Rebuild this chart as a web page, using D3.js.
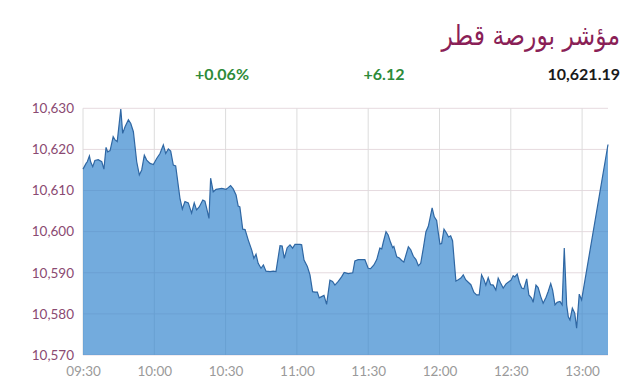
<!DOCTYPE html>
<html><head><meta charset="utf-8">
<script src="https://cdn.jsdelivr.net/npm/d3@7"></script>
<style>
html,body{margin:0;padding:0;background:#fff;}
svg{display:block;}
</style></head>
<body>
<svg id="c" width="640" height="385"></svg>
<script>
const title = "مؤشر بورصة قطر";
const lastValue = "10,621.19";
const change = "+6.12";
const changePct = "+0.06%";
const yTicks = [10570, 10580, 10590, 10600, 10610, 10620, 10630];
const xTickLabels = ["09:30","10:00","10:30","11:00","11:30","12:00","12:30","13:00"];
// minutes since 09:30
const minutes = [0,1.3,1.8,2.7,3.2,4.1,5.0,6.4,7.9,8.8,9.7,10.4,11.4,12.7,13.5,14.4,15.9,16.7,17.7,19.1,20.1,21.2,22.6,23.7,24.7,25.8,26.8,28.2,29.6,31.0,32.4,33.8,34.8,35.9,36.9,38.0,39.0,40.8,41.8,42.9,44.3,45.7,46.8,47.8,48.9,50.4,51.3,52.0,53.0,53.7,54.8,56.0,58.4,60.2,61.1,62.1,63.2,64.4,65.3,66.0,67.2,68.2,69.5,71.0,71.9,72.8,73.7,74.9,75.9,77.0,78.7,80.1,81.2,82.9,83.8,84.7,85.9,87.1,88.2,89.2,91.3,92.0,93.0,94.4,95.5,96.6,97.6,98.6,99.4,100.4,101.4,102.5,103.9,105.0,106.0,107.4,108.8,109.9,111.6,113.5,114.4,115.8,118.6,120.0,121.0,122.4,123.6,124.9,125.7,126.3,127.5,128.4,129.4,130.3,130.8,132.0,133.1,134.1,135.0,136.9,137.9,139.0,140.1,141.1,142.1,143.2,144.3,145.3,146.0,146.9,147.8,148.8,149.5,150.2,150.9,151.9,153.0,153.8,154.7,155.5,156.9,157.9,159.0,160.0,161.0,162.1,163.2,164.5,165.6,166.7,167.7,168.7,169.5,170.5,171.5,172.6,173.7,174.7,175.7,176.8,178.0,178.9,180.1,181.0,181.7,182.7,183.6,184.6,185.5,186.7,187.6,188.8,189.4,190.6,191.5,192.6,193.6,194.8,195.7,196.8,197.6,198.6,199.5,200.7,201.6,202.5,203.5,204.2,204.9,205.9,206.9,207.7,208.8,209.8,220.9];
const values = [10615.2,10616.6,10617,10618.4,10617,10615.8,10617.3,10617.5,10617,10615.2,10620.5,10619.4,10619.7,10623.1,10622.3,10621.9,10629.8,10623.9,10625.5,10627.2,10626.3,10624.3,10617,10613.8,10615,10618.6,10617.4,10616.6,10616.3,10617.8,10619,10621.1,10619,10620.1,10619.6,10616.2,10616,10608.1,10605.5,10607.3,10607,10604.5,10607,10605.3,10606,10607.7,10607.4,10605.8,10603.2,10613,10609.7,10610.3,10610.5,10610.3,10610.7,10611.2,10610.4,10608.9,10606.2,10606,10600.6,10600.5,10598,10595.5,10593.5,10594.5,10592.3,10591.1,10591.9,10590.4,10590.3,10590.4,10590.3,10596.6,10596.5,10593.5,10596.1,10596.8,10596,10596.9,10596.9,10596.8,10593.1,10591.5,10589.5,10585.4,10585.3,10585.3,10583.9,10584.2,10584.5,10582.3,10588.2,10587.9,10587,10587.9,10589,10590.1,10589.8,10590,10592.9,10593.2,10593.2,10591.1,10591,10591.9,10593.2,10596,10595.8,10597.3,10600,10599.2,10597.4,10596.1,10596.4,10593.9,10593.6,10593,10592.6,10596.3,10595.6,10594,10593.2,10591.7,10592.3,10596,10600,10601.3,10603.2,10605.8,10603.6,10602.7,10599.7,10597,10597.1,10600.6,10599.6,10598.7,10599,10597.8,10588,10588.3,10588.7,10589.5,10588.3,10587.7,10587.1,10585.2,10584.6,10584.6,10589.5,10588.3,10587,10588.8,10587.1,10587,10585.8,10588.7,10587.5,10586.3,10587.3,10587.7,10588.2,10589.3,10589,10589.7,10587.7,10586.3,10586.1,10588.5,10584.6,10583.8,10582.8,10587,10586.4,10584.2,10582.6,10584,10585.4,10587.4,10585.8,10582.2,10582.8,10583,10582.2,10596,10582.2,10579.3,10578.5,10581.4,10580.2,10576.5,10584.8,10583.4,10621.19];

const svg = d3.select("#c");
const L = 83, R = 608, T = 108.3, B = 355;
const base = new Date(2024,0,1,9,30);
const toDate = m => new Date(base.getTime() + m*60000);
const data = minutes.map((m,i)=>({t:toDate(m), v:values[i]}));
const x = d3.scaleTime().domain([base, toDate(minutes[minutes.length-1])]).range([L,R]);
const y = d3.scaleLinear().domain([10570,10630]).range([B,T]);
const parse = d3.timeParse("%H:%M");
const xTicks = xTickLabels.map(s=>{const p=parse(s); return new Date(2024,0,1,p.getHours(),p.getMinutes());});

// grid
const g = svg.append("g");
g.selectAll("line.h").data(yTicks).join("line")
  .attr("x1",L).attr("x2",R).attr("y1",d=>y(d)).attr("y2",d=>y(d))
  .attr("stroke","#e6dadf").attr("stroke-width",1);
g.selectAll("line.v").data(xTicks).join("line")
  .attr("x1",d=>x(d)).attr("x2",d=>x(d)).attr("y1",T).attr("y2",B)
  .attr("stroke","#dcdcdc").attr("stroke-width",1);

const area = d3.area().x(d=>x(d.t)).y0(B).y1(d=>y(d.v));
const line = d3.line().x(d=>x(d.t)).y(d=>y(d.v));
svg.append("path").datum(data).attr("d",area).attr("fill","rgb(49,131,205)").attr("fill-opacity",0.68);
svg.append("path").datum(data).attr("d",line).attr("fill","none").attr("stroke","#2f67a3").attr("stroke-width",1.2);

// y axis labels
const ya = svg.append("g").attr("transform",`translate(${L},0)`)
  .call(d3.axisLeft(y).tickValues(yTicks).tickFormat(d3.format(",")).tickSize(0).tickPadding(9));
ya.select(".domain").remove();
ya.selectAll("text").attr("fill","#8a4a72").style("font-family","Lato, sans-serif").style("font-size","13.5px");

const xa = svg.append("g").attr("transform",`translate(0,${B})`)
  .call(d3.axisBottom(x).tickValues(xTicks).tickFormat(d3.timeFormat("%H:%M")).tickSize(0).tickPadding(11));
xa.select(".domain").remove();
xa.selectAll("text").attr("fill","#9a9a9a").style("font-family","Lato, sans-serif").style("font-size","13.5px");

// header
svg.append("text").attr("transform","translate(620,45) scale(0.84,1)").attr("text-anchor","end")
  .attr("fill","#8a1f57").style("font-family","'DejaVu Sans', sans-serif").style("font-size","28px").text(title);
const hdr = (tx,xp,anchor,col)=>svg.append("text").attr("x",xp).attr("y",80).attr("text-anchor",anchor)
  .attr("fill",col).style("font-family","Lato, sans-serif").style("font-weight","bold").style("font-size","16px").text(tx);
hdr(lastValue,620,"end","#1a1a1a");
hdr(change,384,"middle","#2e8b3a");
hdr(changePct,222,"middle","#2e8b3a");
</script>
</body></html>
